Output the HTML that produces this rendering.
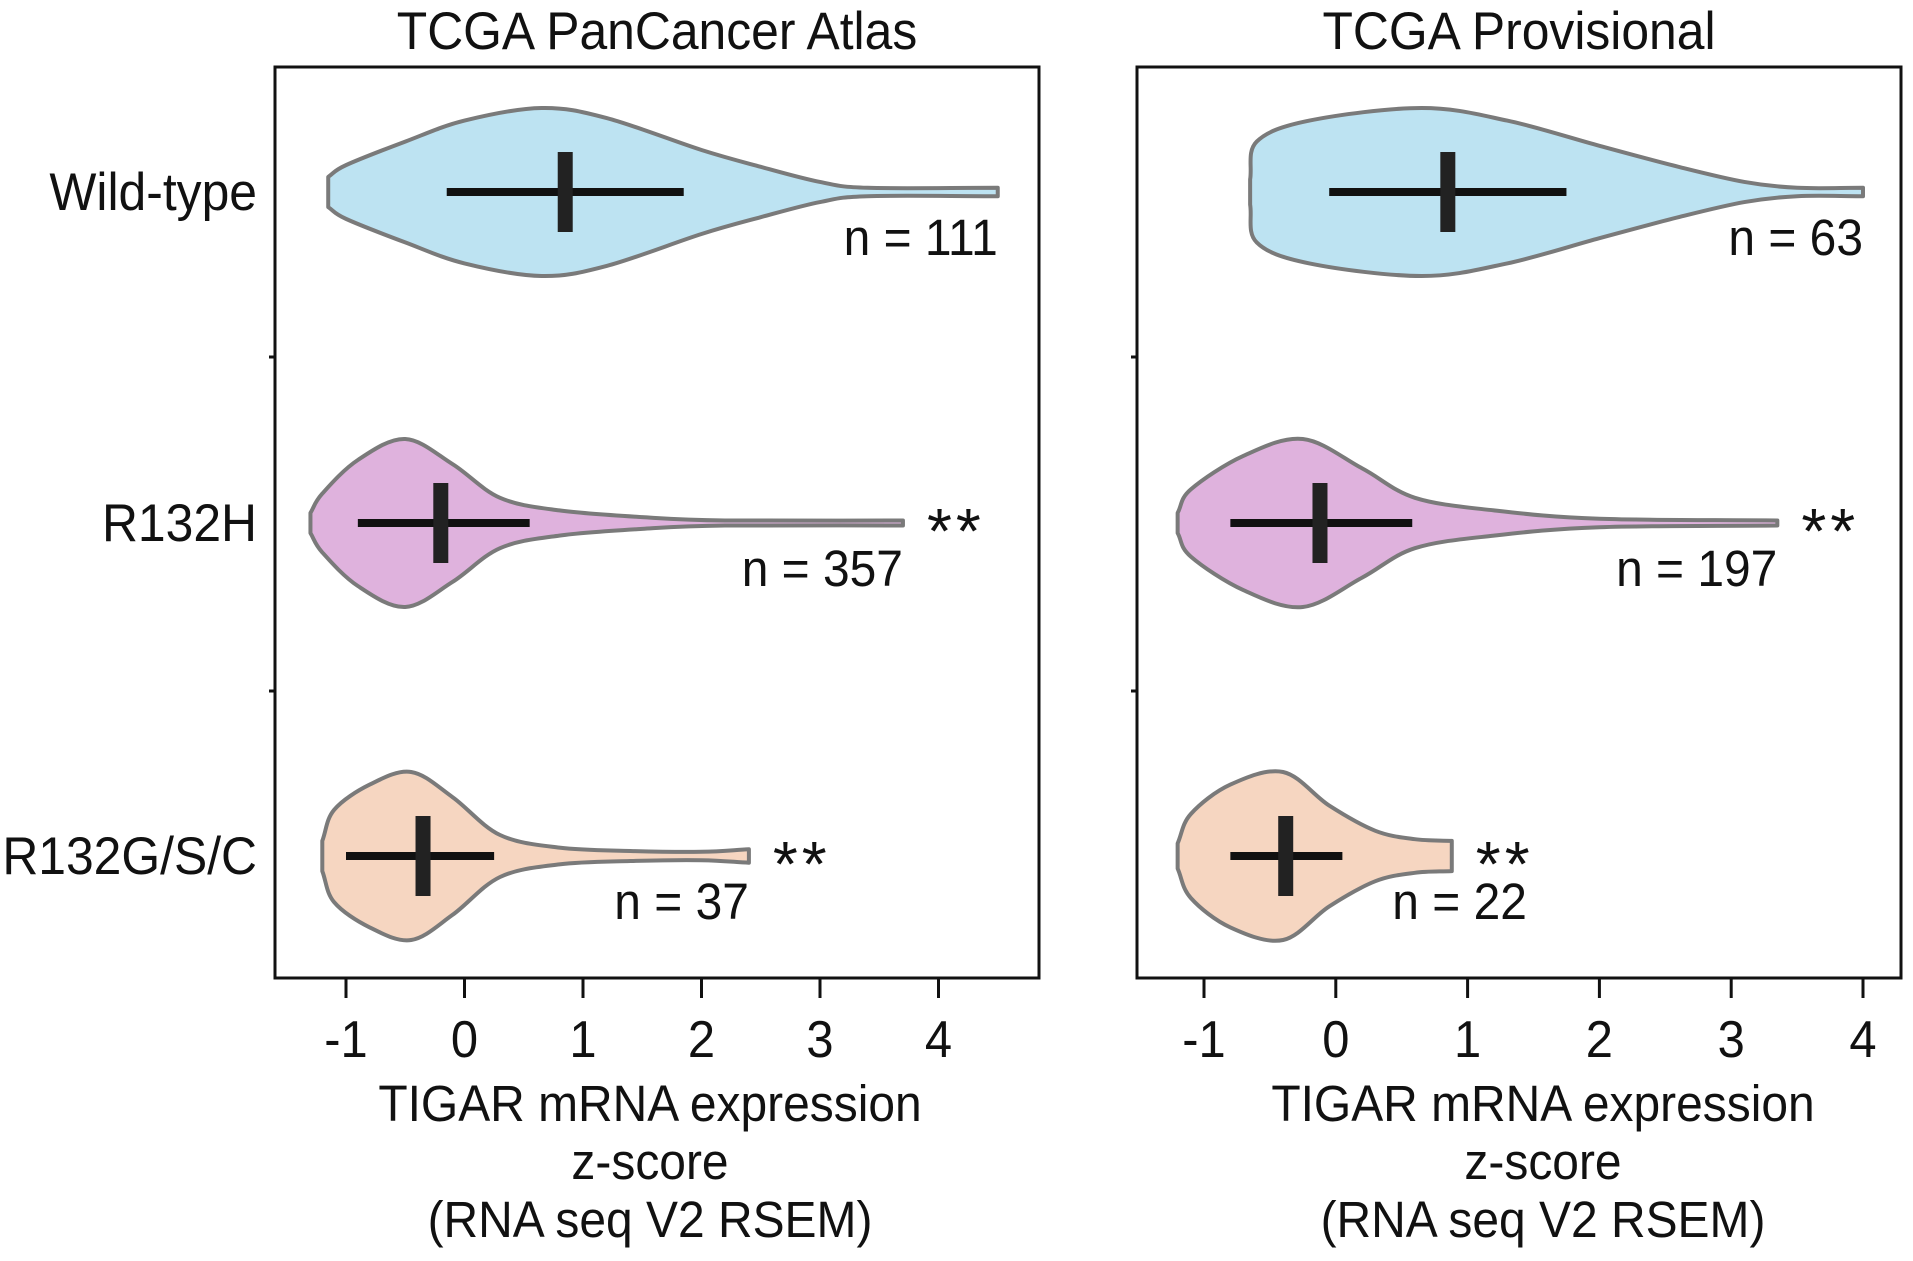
<!DOCTYPE html>
<html><head><meta charset="utf-8"><style>
html,body{margin:0;padding:0;background:#fff;}
svg text{font-family:"Liberation Sans",Arial,sans-serif;fill:#111;}
</style></head><body>
<svg id="chart" width="1913" height="1256" viewBox="0 0 1913 1256" xmlns="http://www.w3.org/2000/svg"></svg>
<script>
const categories = ["Wild-type", "R132H", "R132G/S/C"];
const panelTitles = ["TCGA PanCancer Atlas", "TCGA Provisional"];
const xTicks = [-1, 0, 1, 2, 3, 4];
const nLabelsLeft = ["n = 111", "n = 357", "n = 37"];
const nLabelsRight = ["n = 63", "n = 197", "n = 22"];
const nAnchorLeft = [4.5, 3.7, 2.4];
const nAnchorRight = [4.0, 3.35, 1.45];
const sigLeft = ["", "**", "**"];
const sigRight = ["", "**", "**"];
// violin shapes: [value, relative half-width]
const shapeLeftWT = [[-1.15,0.18],[-1.0,0.32],[-0.5,0.6],[0,0.85],[0.65,1.0],[1.2,0.88],[2.0,0.5],[2.5,0.3],[3.0,0.12],[3.4,0.05],[4.5,0.05]];
const shapeLeftH = [[-1.3,0.12],[-1.2,0.35],[-0.9,0.75],[-0.5,1.0],[-0.1,0.7],[0.3,0.3],[0.8,0.15],[1.5,0.07],[2.2,0.03],[3.7,0.03]];
const shapeLeftG = [[-1.2,0.18],[-1.1,0.55],[-0.8,0.85],[-0.45,1.0],[-0.1,0.7],[0.3,0.25],[0.8,0.1],[1.4,0.06],[2.0,0.05],[2.4,0.08]];
const shapeRightWT = [[-0.65,0.15],[-0.6,0.6],[-0.2,0.85],[0.65,1.0],[1.3,0.85],[2.0,0.55],[2.6,0.3],[3.1,0.12],[3.5,0.05],[4.0,0.05]];
const shapeRightH = [[-1.2,0.12],[-1.1,0.4],[-0.7,0.8],[-0.25,1.0],[0.2,0.65],[0.6,0.3],[1.2,0.15],[2.0,0.05],[3.35,0.03]];
const shapeRightG = [[-1.2,0.15],[-1.1,0.5],[-0.8,0.85],[-0.4,1.0],[-0.05,0.6],[0.3,0.3],[0.6,0.2],[0.88,0.18]];
const meansLeft = [0.85, -0.2, -0.35];
const sdLowLeft = [-0.15, -0.9, -1.0];
const sdHighLeft = [1.85, 0.55, 0.25];
const meansRight = [0.85, -0.12, -0.38];
const sdLowRight = [-0.05, -0.8, -0.8];
const sdHighRight = [1.75, 0.58, 0.05];

const NS="http://www.w3.org/2000/svg";
const svg=document.getElementById('chart');
function mk(tag,attrs,parent){const e=document.createElementNS(NS,tag);for(const k in attrs)e.setAttribute(k,attrs[k]);(parent||svg).appendChild(e);return e;}
function txt(parent,x,y,size,anchor,s){
  const t=mk('text',{x:0,y:0,'font-size':size,'text-anchor':anchor,transform:`translate(${x},${y}) scale(0.94,1)`},parent);
  t.textContent=s;return t;
}
const fills=["#bde3f2","#dfb2dd","#f6d6c1"];
const rowY=[192,523,856];
const halfMax=84;

function panel(p){
  const g=mk('g',{});
  
  
  const x=v=>p.x0+(v-(-1))*p.unit;
  const t=txt(g,(p.left+p.right)/2,49,53,'middle',p.title);
  
  
  p.shapes.forEach((s,i)=>{
    const y0=rowY[i];
    let top=s.map(([v,w])=>[x(v),y0-w*halfMax]);
    let bot=s.slice().reverse().map(([v,w])=>[x(v),y0+w*halfMax]);
    const pts=top.concat(bot);
    let d='M'+pts[0][0]+','+pts[0][1];
    for(let k=0;k<pts.length-1;k++){
      const p0=pts[Math.max(k-1,0)],p1=pts[k],p2=pts[k+1],p3=pts[Math.min(k+2,pts.length-1)];
      if(Math.abs(p1[0]-p2[0])<0.01){d+=` L${p2[0]},${p2[1]}`;continue;}
      let c1=[p1[0]+(p2[0]-p0[0])/6,p1[1]+(p2[1]-p0[1])/6];
      let c2=[p2[0]-(p3[0]-p1[0])/6,p2[1]-(p3[1]-p1[1])/6];
      if(Math.abs(p0[0]-p1[0])<0.01) c1=[p1[0]+(p2[0]-p1[0])/3,p1[1]+(p2[1]-p1[1])/3];
      if(Math.abs(p3[0]-p2[0])<0.01) c2=[p2[0]-(p2[0]-p1[0])/3,p2[1]-(p2[1]-p1[1])/3];
      d+=` C${c1[0]},${c1[1]} ${c2[0]},${c2[1]} ${p2[0]},${p2[1]}`;
    }
    d+='Z';
    const vp=mk('path',{d:d,fill:fills[i],stroke:'#7a7a7a','stroke-width':4,'stroke-linejoin':'round'},g);
    
    
    const hl=mk('line',{x1:x(p.lo[i]),x2:x(p.hi[i]),y1:y0,y2:y0,stroke:'#111','stroke-width':8},g);
    
    
    const vl=mk('line',{x1:x(p.means[i]),x2:x(p.means[i]),y1:y0-40,y2:y0+40,stroke:'#222','stroke-width':15},g);
    
    
    const endX=x(s[s.length-1][0]);
    const nt=txt(g,x(p.nAt[i]),y0+63,51,'end',p.n[i]);
    
    
    if(p.sig[i]){
      const st=mk('text',{x:endX+24,y:y0+30,'font-size':64,'letter-spacing':4},g);
      st.textContent=p.sig[i];
      
      
    }
  });
  const box=mk('rect',{x:p.left,y:67,width:p.right-p.left,height:978-67,fill:'none',stroke:'#111','stroke-width':3},g);
  
  
  [357,691].forEach(yy=>{mk('line',{x1:p.left-6,x2:p.left,y1:yy,y2:yy,stroke:'#111','stroke-width':3},g);});
  xTicks.forEach(v=>{
    mk('line',{x1:x(v),x2:x(v),y1:978,y2:998,stroke:'#111','stroke-width':3},g);
    const tt=txt(g,x(v),1057,52,'middle',String(v));
    
    
  });
  ["TIGAR mRNA expression","z-score","(RNA seq V2 RSEM)"].forEach((s,k)=>{
    const lt=txt(g,p.xlc,1121+k*58,51,'middle',s);
    
    
  });
}
panel({name:'panel-pancancer',title:panelTitles[0],left:275,right:1039,x0:346,unit:118.5,xlc:650,
  shapes:[shapeLeftWT,shapeLeftH,shapeLeftG],means:meansLeft,lo:sdLowLeft,hi:sdHighLeft,n:nLabelsLeft,nAt:nAnchorLeft,sig:sigLeft});
panel({name:'panel-provisional',title:panelTitles[1],left:1137,right:1901,x0:1204,unit:131.8,xlc:1543,
  shapes:[shapeRightWT,shapeRightH,shapeRightG],means:meansRight,lo:sdLowRight,hi:sdHighRight,n:nLabelsRight,nAt:nAnchorRight,sig:sigRight});
categories.forEach((c,i)=>{
  const t=txt(svg,257,rowY[i]+18,53,'end',c);
  
  
});
</script>
</body></html>
